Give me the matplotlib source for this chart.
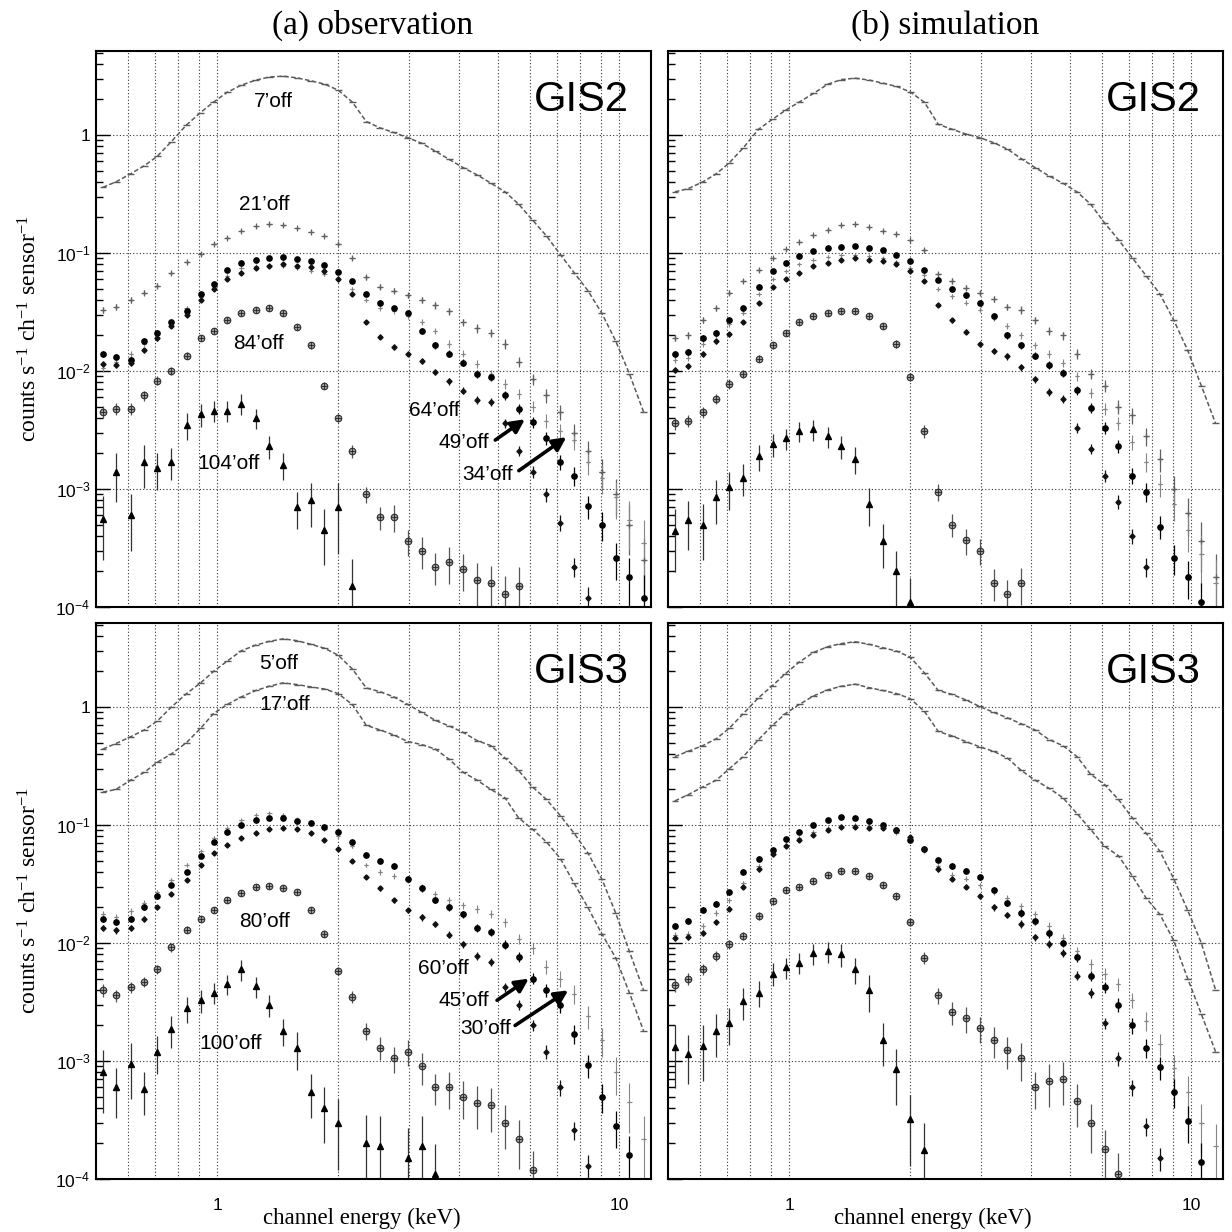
import numpy as np
import matplotlib
matplotlib.use("Agg")
import matplotlib.pyplot as plt
from matplotlib.ticker import LogLocator, FuncFormatter, NullFormatter

plt.rcParams['font.family'] = ['Liberation Sans', 'DejaVu Sans']
plt.rcParams['mathtext.default'] = 'regular'

nan = float('nan')

# channel energies (keV), common binning for every spectrum
energy = [0.52, 0.56, 0.61, 0.66, 0.71, 0.77, 0.84, 0.91, 0.98, 1.06,
          1.15, 1.25, 1.35, 1.46, 1.58, 1.71, 1.85, 2.00, 2.17, 2.35,
          2.54, 2.75, 2.98, 3.23, 3.49, 3.78, 4.09, 4.43, 4.80, 5.20,
          5.62, 6.09, 6.59, 7.14, 7.73, 8.36, 9.05, 9.80, 10.6, 11.5]

# relative 1-sigma errors
err_mid = [0.06, 0.06, 0.06, 0.05, 0.05, 0.04, 0.04, 0.03, 0.03, 0.03,
           0.03, 0.03, 0.03, 0.03, 0.03, 0.03, 0.03, 0.03, 0.04, 0.04,
           0.05, 0.05, 0.05, 0.06, 0.06, 0.07, 0.07, 0.08, 0.08, 0.09,
           0.10, 0.11, 0.13, 0.15, 0.18, 0.22, 0.28, 0.35, 0.45, 0.55]
err_ring = [0.12, 0.12, 0.11, 0.10, 0.09, 0.08, 0.07, 0.06, 0.06, 0.05,
            0.05, 0.05, 0.05, 0.05, 0.05, 0.06, 0.07, 0.08, 0.12, 0.16,
            0.22, 0.25, 0.25, 0.30, 0.30, 0.35, 0.35, 0.40, 0.40, 0.40,
            0.45, 0.45, 0.50, 0.50, 0.50, 0.50, 0.50, 0.50, 0.50, 0.50]
err_faint = [0.55, 0.45, 0.50, 0.40, 0.35, 0.30, 0.25, 0.22, 0.20, 0.20,
             0.20, 0.20, 0.22, 0.25, 0.35, 0.40, 0.50, 0.60, 0.70, 0.75,
             0.80, 0.80, 0.80, 0.80, 0.80, 0.80, 0.80, 0.80, 0.80, 0.80,
             0.80, 0.80, 0.80, 0.80, 0.80, 0.80, 0.80, 0.80, 0.80, 0.80]

# (a) observation, GIS2
obs2_7 = [0.36, 0.40, 0.47, 0.55, 0.66, 0.88, 1.22, 1.55, 1.90, 2.30,
          2.65, 2.92, 3.10, 3.15, 3.05, 2.88, 2.70, 2.40, 1.90, 1.30,
          1.15, 1.05, 0.95, 0.85, 0.73, 0.62, 0.53, 0.46, 0.39, 0.33,
          0.26, 0.19, 0.14, 0.097, 0.068, 0.048, 0.031, 0.018, 0.0095, 0.0045]
obs2_21 = [0.033, 0.035, 0.040, 0.046, 0.053, 0.068, 0.084, 0.098, 0.120, 0.135,
           0.155, 0.168, 0.175, 0.172, 0.162, 0.152, 0.140, 0.120, 0.090, 0.062,
           0.052, 0.048, 0.044, 0.040, 0.036, 0.032, 0.026, 0.023, 0.021, 0.017,
           0.012, 0.0085, 0.0062, 0.0045, 0.0030, 0.0021, 0.0014, 0.0009, 0.0005, 0.00025]
obs2_34 = [0.0105, 0.0120, 0.0140, 0.0170, 0.0205, 0.026, 0.034, 0.042, 0.052, 0.064,
           0.074, 0.077, 0.079, 0.077, 0.074, 0.070, 0.066, 0.059, 0.050, 0.040,
           0.034, 0.032, 0.029, 0.026, 0.022, 0.017, 0.0140, 0.0115, 0.0095, 0.0078,
           0.0064, 0.0050, 0.0038, 0.0031, 0.0026, 0.0017, 0.00125, 0.00085, 0.00055, 0.00035]
obs2_49 = [0.0140, 0.0131, 0.0125, 0.018, 0.021, 0.026, 0.032, 0.045, 0.055, 0.072,
           0.082, 0.088, 0.090, 0.092, 0.089, 0.086, 0.079, 0.069, 0.058, 0.045,
           0.038, 0.034, 0.031, 0.022, 0.0165, 0.0140, 0.0118, 0.0095, 0.0089, 0.0062,
           0.0048, 0.0037, 0.0027, 0.0017, 0.0013, 0.00072, 0.00050, 0.00026, 0.00018, 0.00012]
obs2_64 = [0.0115, 0.0112, 0.0118, 0.015, 0.019, 0.024, 0.030, 0.040, 0.050, 0.060,
           0.068, 0.074, 0.078, 0.080, 0.078, 0.076, 0.070, 0.060, 0.045, 0.026,
           0.0195, 0.0160, 0.0140, 0.0122, 0.0098, 0.0082, 0.0068, 0.0057, 0.0055, 0.0036,
           0.0021, 0.0014, 0.0009, 0.00052, 0.00022, 0.00012, nan, nan, nan, nan]
obs2_84 = [0.0045, 0.0048, 0.0048, 0.0062, 0.0083, 0.0100, 0.0135, 0.0190, 0.0220, 0.0270,
           0.0310, 0.0330, 0.0340, 0.0310, 0.0235, 0.0165, 0.0075, 0.0040, 0.0021, 0.0009,
           0.00058, 0.00058, 0.00036, 0.00030, 0.00022, 0.00024, 0.00021, 0.00017, 0.00016, 0.00013,
           0.00015, nan, nan, nan, nan, nan, nan, nan, nan, nan]
obs2_104 = [5.6e-4, 1.4e-3, 6.0e-4, 1.7e-3, 1.5e-3, 1.7e-3, 3.5e-3, 4.3e-3, 4.6e-3, 4.6e-3,
            5.3e-3, 4.0e-3, 2.3e-3, 1.6e-3, 7e-4, 8e-4, 4.5e-4, 7.0e-4, 1.5e-4, nan,
            nan, nan, nan, nan, nan, nan, nan, nan, nan, nan,
            nan, nan, nan, nan, nan, nan, nan, nan, nan, nan]

# (b) simulation, GIS2
sim2_7 = [0.33, 0.35, 0.40, 0.47, 0.58, 0.78, 1.12, 1.36, 1.62, 1.90,
          2.25, 2.70, 2.95, 3.03, 2.92, 2.75, 2.58, 2.32, 1.90, 1.23,
          1.12, 1.02, 0.95, 0.86, 0.76, 0.63, 0.53, 0.45, 0.39, 0.33,
          0.26, 0.18, 0.13, 0.091, 0.064, 0.045, 0.027, 0.015, 0.0075, 0.0036]
sim2_21 = [0.019, 0.020, 0.027, 0.034, 0.046, 0.058, 0.072, 0.090, 0.108, 0.125,
           0.142, 0.158, 0.172, 0.175, 0.165, 0.155, 0.145, 0.128, 0.105, 0.066,
           0.058, 0.051, 0.046, 0.041, 0.035, 0.033, 0.027, 0.022, 0.020, 0.0140,
           0.0095, 0.0075, 0.0050, 0.0042, 0.0028, 0.0018, 0.0010, 0.00062, 0.00036, 0.00018]
sim2_34 = [0.0125, 0.0130, 0.0170, 0.020, 0.025, 0.031, 0.045, 0.060, 0.070, 0.080,
           0.088, 0.093, 0.096, 0.097, 0.094, 0.090, 0.084, 0.075, 0.065, 0.050,
           0.043, 0.038, 0.033, 0.028, 0.024, 0.020, 0.0165, 0.0140, 0.0118, 0.0090,
           0.0065, 0.0048, 0.0036, 0.0025, 0.0017, 0.0011, 0.00075, 0.00045, 0.00028, 0.00016]
sim2_49 = [0.0140, 0.0145, 0.0190, 0.021, 0.027, 0.034, 0.052, 0.071, 0.083, 0.094,
           0.104, 0.110, 0.113, 0.115, 0.111, 0.106, 0.097, 0.085, 0.072, 0.059,
           0.050, 0.044, 0.038, 0.029, 0.020, 0.0165, 0.0135, 0.0113, 0.0097, 0.0069,
           0.0049, 0.0033, 0.0023, 0.0013, 0.00095, 0.00048, 0.00026, 0.00018, 0.00011, nan]
sim2_64 = [0.0102, 0.0110, 0.0140, 0.0178, 0.0205, 0.026, 0.038, 0.052, 0.060, 0.068,
           0.077, 0.083, 0.088, 0.090, 0.088, 0.085, 0.080, 0.070, 0.058, 0.036,
           0.027, 0.0215, 0.0168, 0.0147, 0.0133, 0.0108, 0.0085, 0.0067, 0.0058, 0.0033,
           0.0022, 0.0013, 0.00078, 0.00040, 0.00022, nan, nan, nan, nan, nan]
sim2_84 = [0.0036, 0.0038, 0.0045, 0.0058, 0.0078, 0.0095, 0.0127, 0.0165, 0.021, 0.026,
           0.029, 0.031, 0.032, 0.032, 0.029, 0.024, 0.017, 0.0089, 0.0031, 0.00095,
           0.00050, 0.00037, 0.00030, 0.00016, 0.00013, 0.00016, nan, nan, nan, nan,
           nan, nan, nan, nan, nan, nan, nan, nan, nan, nan]
sim2_104 = [4.4e-4, 5.5e-4, 5.0e-4, 8.5e-4, 1.03e-3, 1.25e-3, 1.9e-3, 2.4e-3, 2.7e-3, 3.1e-3,
            3.2e-3, 2.8e-3, 2.3e-3, 1.8e-3, 7.5e-4, 3.6e-4, 2.0e-4, 1.1e-4, nan, nan,
            nan, nan, nan, nan, nan, nan, nan, nan, nan, nan,
            nan, nan, nan, nan, nan, nan, nan, nan, nan, nan]

# (a) observation, GIS3
obs3_5 = [0.44, 0.49, 0.56, 0.64, 0.76, 1.00, 1.30, 1.60, 2.00, 2.45,
          3.00, 3.35, 3.60, 3.78, 3.65, 3.40, 3.15, 2.75, 2.10, 1.45,
          1.35, 1.22, 1.05, 0.90, 0.77, 0.69, 0.61, 0.52, 0.47, 0.37,
          0.29, 0.21, 0.165, 0.12, 0.085, 0.058, 0.035, 0.018, 0.0085, 0.0040]
obs3_17 = [0.19, 0.20, 0.24, 0.28, 0.34, 0.40, 0.50, 0.66, 0.88, 1.05,
           1.22, 1.38, 1.50, 1.60, 1.55, 1.48, 1.42, 1.30, 1.05, 0.70,
           0.64, 0.58, 0.51, 0.48, 0.44, 0.36, 0.28, 0.24, 0.20, 0.17,
           0.115, 0.092, 0.072, 0.052, 0.032, 0.020, 0.012, 0.0075, 0.0038, 0.0018]
obs3_30 = [0.0175, 0.0165, 0.0185, 0.022, 0.027, 0.034, 0.046, 0.060, 0.078, 0.094,
           0.110, 0.122, 0.126, 0.122, 0.112, 0.104, 0.092, 0.080, 0.066, 0.046,
           0.040, 0.037, 0.034, 0.030, 0.026, 0.023, 0.021, 0.0195, 0.0177, 0.0150,
           0.0108, 0.0090, 0.0063, 0.0050, 0.0037, 0.0024, 0.0015, 0.0008, 0.00045, 0.00022]
obs3_45 = [0.0160, 0.0150, 0.0160, 0.020, 0.025, 0.031, 0.040, 0.055, 0.072, 0.088,
           0.100, 0.110, 0.115, 0.114, 0.108, 0.104, 0.096, 0.088, 0.072, 0.056,
           0.050, 0.045, 0.035, 0.029, 0.023, 0.020, 0.0175, 0.0135, 0.0125, 0.0097,
           0.0076, 0.0050, 0.0040, 0.0030, 0.0017, 0.00092, 0.00050, 0.00028, 0.00016, nan]
obs3_60 = [0.0135, 0.0128, 0.0135, 0.016, 0.020, 0.026, 0.034, 0.046, 0.058, 0.068,
           0.077, 0.085, 0.092, 0.095, 0.092, 0.086, 0.075, 0.062, 0.050, 0.036,
           0.029, 0.023, 0.019, 0.0165, 0.0146, 0.0118, 0.0098, 0.0078, 0.0069, 0.0042,
           0.0030, 0.0020, 0.0012, 0.00060, 0.00026, 0.00013, nan, nan, nan, nan]
obs3_80 = [0.0040, 0.0036, 0.0042, 0.0047, 0.0060, 0.0092, 0.0130, 0.0160, 0.0190, 0.0230,
           0.0265, 0.0300, 0.0305, 0.0290, 0.0270, 0.0190, 0.0120, 0.0058, 0.0035, 0.0018,
           0.0013, 0.00105, 0.0012, 0.0009, 0.0006, 0.0006, 0.0005, 0.00044, 0.00042, 0.0003,
           0.00022, 0.00012, nan, nan, nan, nan, nan, nan, nan, nan]
obs3_100 = [8.0e-4, 6.0e-4, 9.5e-4, 5.8e-4, 1.2e-3, 1.85e-3, 2.8e-3, 3.3e-3, 3.8e-3, 4.5e-3,
            6.0e-3, 4.3e-3, 3.0e-3, 1.8e-3, 1.3e-3, 5.5e-4, 4.0e-4, 3.0e-4, nan, 2.0e-4,
            1.9e-4, nan, 1.5e-4, 1.9e-4, 1.1e-4, nan, nan, nan, nan, nan,
            nan, nan, nan, nan, nan, nan, nan, nan, nan, nan]

# (b) simulation, GIS3
sim3_5 = [0.38, 0.42, 0.47, 0.54, 0.66, 0.88, 1.20, 1.52, 1.92, 2.40,
          2.90, 3.25, 3.45, 3.57, 3.40, 3.18, 2.98, 2.65, 1.95, 1.38,
          1.28, 1.15, 1.01, 0.90, 0.81, 0.72, 0.64, 0.53, 0.47, 0.38,
          0.27, 0.22, 0.165, 0.115, 0.085, 0.060, 0.035, 0.019, 0.010, 0.0040]
sim3_17 = [0.16, 0.18, 0.21, 0.24, 0.30, 0.38, 0.53, 0.70, 0.88, 1.05,
           1.24, 1.40, 1.50, 1.56, 1.46, 1.38, 1.30, 1.18, 0.92, 0.62,
           0.57, 0.51, 0.46, 0.42, 0.37, 0.29, 0.24, 0.205, 0.17, 0.125,
           0.092, 0.066, 0.055, 0.037, 0.024, 0.0175, 0.0105, 0.0050, 0.0025, 0.0012]
sim3_30 = [0.0118, 0.0120, 0.0140, 0.0180, 0.023, 0.032, 0.045, 0.056, 0.068, 0.078,
           0.088, 0.095, 0.099, 0.100, 0.098, 0.094, 0.086, 0.075, 0.060, 0.045,
           0.038, 0.035, 0.031, 0.027, 0.024, 0.0205, 0.0175, 0.0140, 0.0110, 0.0085,
           0.0066, 0.0055, 0.0045, 0.0033, 0.0022, 0.0014, 0.00088, 0.00055, 0.00030, 0.00019]
sim3_45 = [0.0140, 0.0155, 0.0190, 0.0215, 0.027, 0.040, 0.052, 0.061, 0.076, 0.087,
           0.100, 0.110, 0.117, 0.115, 0.108, 0.100, 0.090, 0.074, 0.062, 0.051,
           0.045, 0.041, 0.036, 0.028, 0.022, 0.018, 0.0153, 0.0121, 0.0100, 0.0076,
           0.0053, 0.0042, 0.0030, 0.0020, 0.0013, 0.00089, 0.00055, 0.00031, 0.00014, nan]
sim3_60 = [0.0110, 0.0112, 0.0122, 0.0150, 0.0195, 0.030, 0.042, 0.057, 0.066, 0.074,
           0.082, 0.090, 0.096, 0.097, 0.094, 0.094, 0.090, 0.079, 0.062, 0.042,
           0.035, 0.030, 0.025, 0.020, 0.0172, 0.0145, 0.0112, 0.0099, 0.0082, 0.0053,
           0.0038, 0.0021, 0.00105, 0.00060, 0.00028, 0.00015, nan, nan, nan, nan]
sim3_80 = [0.0044, 0.0050, 0.0060, 0.0078, 0.0098, 0.0115, 0.0170, 0.0225, 0.0280, 0.0300,
           0.0335, 0.0380, 0.0410, 0.0405, 0.0370, 0.0310, 0.0250, 0.0150, 0.0075, 0.0036,
           0.0026, 0.0023, 0.0019, 0.0015, 0.00123, 0.00105, 0.00060, 0.00068, 0.00070, 0.00046,
           0.00030, 0.00018, 0.00011, nan, nan, nan, nan, nan, nan, nan]
sim3_100 = [1.31e-3, 1.15e-3, 1.35e-3, 1.8e-3, 2.1e-3, 3.2e-3, 3.8e-3, 5.5e-3, 6.2e-3, 6.8e-3,
            8.2e-3, 8.5e-3, 8.0e-3, 6.0e-3, 4.0e-3, 1.5e-3, 8.5e-4, 3.2e-4, 1.75e-4, nan,
            nan, nan, nan, nan, nan, nan, nan, nan, nan, nan,
            nan, nan, nan, nan, nan, nan, nan, nan, nan, nan]

# text labels: (text, energy, flux)
labels_obs2 = [("7’off", 1.38, 1.93), ("21’off", 1.31, 0.26), ("84’off", 1.27, 0.017),
               ("64’off", 3.46, 4.6e-3), ("49’off", 4.1, 2.5e-3), ("34’off", 4.7, 1.34e-3),
               ("104’off", 1.07, 1.66e-3)]
labels_obs3 = [("5’off", 1.42, 2.34), ("17’off", 1.47, 1.05), ("80’off", 1.31, 0.0152),
               ("60’off", 3.65, 6.05e-3), ("45’off", 4.1, 3.27e-3), ("30’off", 4.65, 1.88e-3),
               ("100’off", 1.08, 1.40e-3)]
# arrows: (tail E, tail F, head E, head F)
arrows_obs2 = [(4.92, 2.6e-3, 5.83, 3.9e-3), (5.63, 1.43e-3, 7.39, 2.75e-3)]
arrows_obs3 = [(4.97, 3.27e-3, 5.96, 4.99e-3), (5.51, 2.0e-3, 7.47, 3.97e-3)]


E = np.array(energy)
edges = np.sqrt(E[:-1] * E[1:])
left_edge = np.concatenate([[E[0] ** 2 / edges[0]], edges])
right_edge = np.concatenate([edges, [E[-1] ** 2 / edges[-1]]])


def draw(ax, values, kind):
    y = np.array(values, float)
    ok = np.isfinite(y)
    x = E[ok]
    y = y[ok]
    xl = (E - left_edge)[ok]
    xr = (right_edge - E)[ok]
    if kind == 'line':
        # bright spectra: fine staircase of short bin dashes
        ax.plot(x, y, color='#5a5a5a', lw=1.1, ls=(0, (3, 1.6)))
        ax.errorbar(x, y, xerr=[xl * 0.5, xr * 0.5], fmt='none', ecolor='#5a5a5a', elinewidth=1.0)
        return
    if kind in ('plus', 'plus_s', 'dot', 'dia'):
        rel = np.array(err_mid)[ok]
    elif kind == 'ring':
        rel = np.array(err_ring)[ok]
    else:
        rel = np.array(err_faint)[ok]
    ylo = np.minimum(rel, 0.97) * y
    yhi = rel * y
    if kind == 'plus':
        ax.errorbar(x, y, xerr=[xl * 0.35, xr * 0.35], yerr=[ylo, yhi], fmt='+', color='#606060',
                    ms=4, mew=0.9, elinewidth=0.9)
    elif kind == 'plus_s':
        ax.errorbar(x, y, xerr=[xl * 0.3, xr * 0.3], yerr=[ylo, yhi], fmt='+', color='#858585',
                    ms=3, mew=0.8, elinewidth=0.8)
    elif kind == 'dot':
        ax.errorbar(x, y, yerr=[ylo, yhi], fmt='o', color='black', ms=3.8, elinewidth=0.9)
    elif kind == 'dia':
        ax.errorbar(x, y, yerr=[ylo, yhi], fmt='D', color='#111111', ms=2.6, elinewidth=0.9)
    elif kind == 'ring':
        ax.errorbar(x, y, yerr=[ylo, yhi], fmt='none', ecolor='#555555', elinewidth=0.9)
        ax.plot(x, y, 'o', mfc='#9a9a9a', mec='#222222', ms=4.8, mew=0.7, ls='none')
        ax.plot(x, y, '+', color='#222222', ms=4.8, mew=0.6, ls='none')
    else:
        ax.errorbar(x, y, yerr=[ylo, yhi], fmt='^', color='black', ecolor='#333333',
                    ms=3.8, elinewidth=0.9)


def yfmt(v, pos):
    e = int(round(np.log10(v)))
    if e == 0:
        return '1'
    return r'$10^{%d}$' % e


fig = plt.figure(figsize=(12.32, 12.32), dpi=100)
W = 555 / 1232
H = 556 / 1232
ax_tl = fig.add_axes([96 / 1232, 1 - 607 / 1232, W, H])
ax_tr = fig.add_axes([668 / 1232, 1 - 607 / 1232, W, H])
ax_bl = fig.add_axes([96 / 1232, 1 - 1179 / 1232, W, H])
ax_br = fig.add_axes([668 / 1232, 1 - 1179 / 1232, W, H])

panels = [
    (ax_tl, [obs2_7, obs2_21, obs2_34, obs2_49, obs2_64, obs2_84, obs2_104],
     ['line', 'plus', 'plus_s', 'dot', 'dia', 'ring', 'tri'], 'GIS2', False),
    (ax_tr, [sim2_7, sim2_21, sim2_34, sim2_49, sim2_64, sim2_84, sim2_104],
     ['line', 'plus', 'plus_s', 'dot', 'dia', 'ring', 'tri'], 'GIS2', False),
    (ax_bl, [obs3_5, obs3_17, obs3_30, obs3_45, obs3_60, obs3_80, obs3_100],
     ['line', 'line', 'plus_s', 'dot', 'dia', 'ring', 'tri'], 'GIS3', True),
    (ax_br, [sim3_5, sim3_17, sim3_30, sim3_45, sim3_60, sim3_80, sim3_100],
     ['line', 'line', 'plus_s', 'dot', 'dia', 'ring', 'tri'], 'GIS3', True),
]

for ax, series, kinds, det, bottom in panels:
    ax.set_xscale('log')
    ax.set_yscale('log')
    ax.set_xlim(0.5, 12.0)
    ax.set_ylim(1e-4, 5.15)
    for s, k in zip(series, kinds):
        draw(ax, s, k)

    ax.set_xticks([1, 10])
    ax.set_xticklabels(['1', '10'])
    ax.set_xticks([0.6, 0.7, 0.8, 0.9, 2, 3, 4, 5, 6, 7, 8, 9], minor=True)
    ax.xaxis.set_minor_formatter(NullFormatter())
    ax.yaxis.set_major_locator(LogLocator(base=10, numticks=12))
    ax.yaxis.set_minor_locator(LogLocator(base=10, subs=np.arange(2, 10), numticks=12))
    ax.yaxis.set_major_formatter(FuncFormatter(yfmt))
    ax.yaxis.set_minor_formatter(NullFormatter())
    ax.xaxis.grid(True, which='both', ls=(0, (1, 2)), color='#333333', lw=0.8)
    ax.yaxis.grid(True, which='major', ls=(0, (1, 2)), color='#333333', lw=0.8)
    ax.set_axisbelow(True)
    ax.tick_params(axis='x', which='both', length=0, pad=14, labelsize=12.5,
                   labelbottom=bottom)
    ax.tick_params(axis='y', which='major', direction='in', length=10, width=1.0,
                   labelsize=12.5, pad=4, left=True, right=False)
    ax.tick_params(axis='y', which='minor', direction='in', length=5, width=1.0,
                   left=True, right=False)
    if ax in (ax_tr, ax_br):
        ax.tick_params(axis='y', which='both', labelleft=False)
    for sp in ax.spines.values():
        sp.set_linewidth(1.5)

    ax.text(6.15, 1.6, det, fontsize=30, ha='left', va='baseline')

for ax, labels, arrows in [(ax_tl, labels_obs2, arrows_obs2), (ax_bl, labels_obs3, arrows_obs3)]:
    for t, ex, fy in labels:
        ax.text(ex, fy, t, fontsize=15, ha='center', va='center')
    for e0, f0, e1, f1 in arrows:
        ax.annotate('', xy=(e1, f1), xytext=(e0, f0),
                    arrowprops=dict(arrowstyle='-|>', lw=2.6, color='black', mutation_scale=20,
                                    shrinkA=0, shrinkB=0))

serif = ['Liberation Serif', 'DejaVu Serif']
fig.text(373 / 1232, 1 - 25 / 1232, '(a) observation', fontsize=24, family=serif, ha='center', va='center')
fig.text(945 / 1232, 1 - 25 / 1232, '(b) simulation', fontsize=24, family=serif, ha='center', va='center')
fig.text(362 / 1232, 1 - 1218 / 1232, 'channel energy (keV)', fontsize=16.5, family=serif, ha='center', va='center')
fig.text(933 / 1232, 1 - 1218 / 1232, 'channel energy (keV)', fontsize=16.5, family=serif, ha='center', va='center')
ylab = r'counts s$^{-1}$ ch$^{-1}$ sensor$^{-1}$'
fig.text(30 / 1232, 1 - 329 / 1232, ylab, fontsize=17, family=serif, rotation=90, ha='center', va='center')
fig.text(30 / 1232, 1 - 901 / 1232, ylab, fontsize=17, family=serif, rotation=90, ha='center', va='center')

fig.savefig('out.png', dpi=100)
